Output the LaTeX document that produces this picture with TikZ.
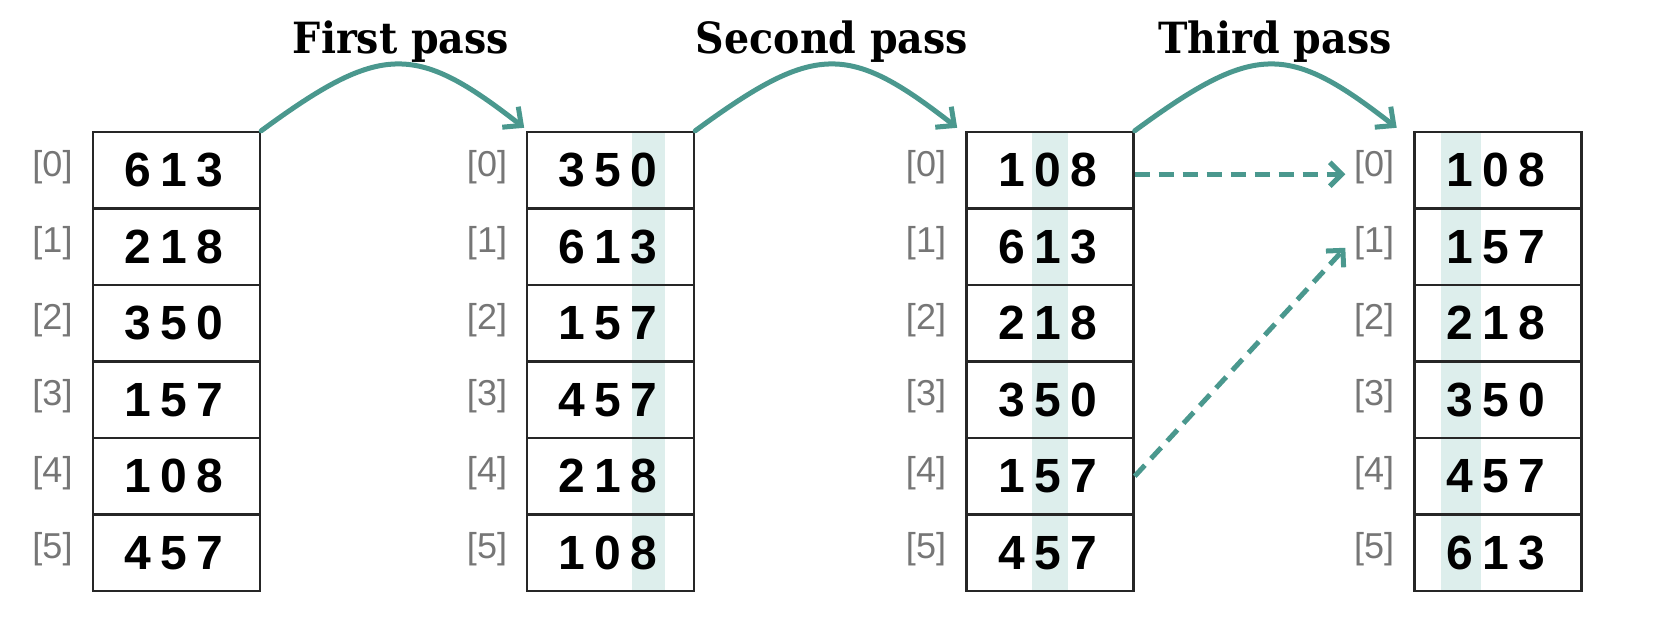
\documentclass[tikz,border=0pt]{standalone}
\usepackage{fontspec}
\usetikzlibrary{arrows.meta,calc}
\newfontfamily\digitfont{Liberation Sans}
\newfontfamily\labelfont{Liberation Sans}
\newfontfamily\titlefont{DejaVu Serif}
\definecolor{passteal}{RGB}{74,152,142}
\definecolor{stripefill}{RGB}{221,238,236}
\definecolor{cellborder}{RGB}{38,38,38}
\definecolor{idxgray}{RGB}{118,118,118}
\newcommand\digs[3]{\hspace*{-5pt}\makebox[36pt]{#1}\makebox[36pt]{#2}\makebox[36pt]{#3}}
\newcommand\ttl[1]{\scalebox{0.92}[1]{#1}}
\tikzset{
  cell/.style={draw=cellborder, line width=2.4pt, minimum width=167pt, minimum height=76.5pt,
    inner sep=0pt, font=\digitfont\bfseries\fontsize{48}{50}\selectfont, text=black},
  idx/.style={font=\labelfont\fontsize{36}{38}\selectfont, text=idxgray, anchor=base, inner sep=0pt},
  passtitle/.style={font=\titlefont\bfseries\fontsize{43}{46}\selectfont, anchor=base, inner sep=0pt},
  passarrow/.style={draw=passteal, line width=5pt, line cap=round,
    -{Straight Barb[length=14pt,width=26pt]}},
  movearrow/.style={draw=passteal, line width=5pt, dash pattern=on 15pt off 9pt,
    -{Straight Barb[length=12pt,width=24pt]}},
  stripe/.style={fill=stripefill, draw=none}
}
\begin{document}
\begin{tikzpicture}[x=1pt,y=-1pt]
\useasboundingbox (0,0) rectangle (1654,642);
% highlighted digit columns
\fill[stripe] (632,132) rectangle (665,591);
\fill[stripe] (1032,132) rectangle (1068,591);
\fill[stripe] (1441,132) rectangle (1481,591);
% tables
\foreach \a/\b/\c [count=\i from 0] in {6/1/3,2/1/8,3/5/0,1/5/7,1/0/8,4/5/7}{
  \node[cell] (t1c\i) at (176.5,{132+76.5*(\i+0.5)}) {\digs{\a}{\b}{\c}};
  \node[idx] (t1i\i) at (52.5,{132+76.5*(\i+0.5)+6}) {[\i]};
}
\foreach \a/\b/\c [count=\i from 0] in {3/5/0,6/1/3,1/5/7,4/5/7,2/1/8,1/0/8}{
  \node[cell] (t2c\i) at (610.5,{132+76.5*(\i+0.5)}) {\digs{\a}{\b}{\c}};
  \node[idx] (t2i\i) at (487,{132+76.5*(\i+0.5)+6}) {[\i]};
}
\foreach \a/\b/\c [count=\i from 0] in {1/0/8,6/1/3,2/1/8,3/5/0,1/5/7,4/5/7}{
  \node[cell] (t3c\i) at (1050,{132+76.5*(\i+0.5)}) {\digs{\a}{\b}{\c}};
  \node[idx] (t3i\i) at (926,{132+76.5*(\i+0.5)+6}) {[\i]};
}
\foreach \a/\b/\c [count=\i from 0] in {1/0/8,1/5/7,2/1/8,3/5/0,4/5/7,6/1/3}{
  \node[cell] (t4c\i) at (1498,{132+76.5*(\i+0.5)}) {\digs{\a}{\b}{\c}};
  \node[idx] (t4i\i) at (1374,{132+76.5*(\i+0.5)+6}) {[\i]};
}
% titles
\node[passtitle] (p1) at (401,53.5) {\ttl{First pass}};
\node[passtitle] (p2) at (832,53.5) {\ttl{Second pass}};
\node[passtitle] (p3) at (1275,53.5) {\ttl{Third pass}};
% pass arrows
\coordinate (e1) at ($(t1c0.north east)+(263,-3)$);
\coordinate (e2) at ($(t2c0.north east)+(262,-3)$);
\coordinate (e3) at ($(t3c0.north east)+(262,-3)$);
\draw[passarrow] (t1c0.north east) .. controls +(120,-88) and +(-109,-85) .. (e1);
\draw[passarrow] (t2c0.north east) .. controls +(120,-88) and +(-109,-85) .. (e2);
\draw[passarrow] (t3c0.north east) .. controls +(120,-88) and +(-109,-85) .. (e3);
% move arrows
\coordinate (sA) at ($(t3c0.east)+(0,4)$);
\coordinate (dA) at ($(t4c0.west)+(-68,4)$);
\coordinate (dB) at ($(t4c1.west)+(-68,1)$);
\draw[movearrow] (sA) -- (dA);
\draw[movearrow] (t3c4.east) -- (dB);
\end{tikzpicture}
\end{document}
